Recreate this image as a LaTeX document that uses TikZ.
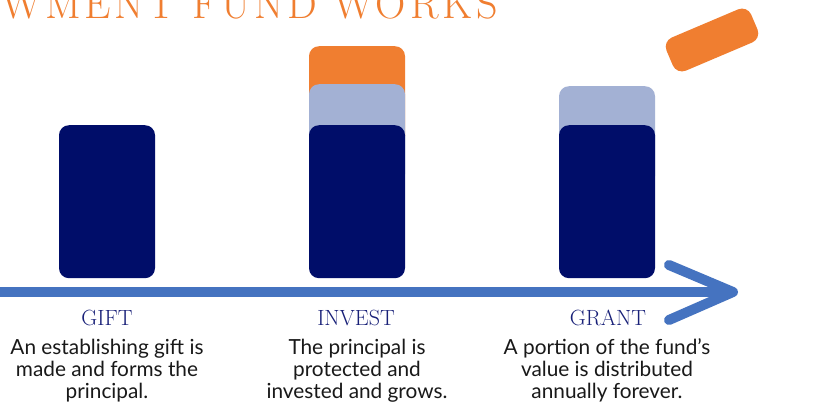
\documentclass[tikz,border=0pt]{standalone}
\usepackage{fontspec}
\newfontfamily\bodyfont{Lato}
\newfontfamily\titlefont[LetterSpace=9]{Latin Modern Roman}
\definecolor{navy}{RGB}{0,13,105}
\definecolor{lightbar}{RGB}{163,177,212}
\definecolor{orangebar}{RGB}{240,126,48}
\definecolor{arrowblue}{RGB}{69,115,192}
\definecolor{headnavy}{RGB}{24,32,120}
\definecolor{bodyink}{RGB}{25,25,25}
\tikzset{
  bar/.style={rounded corners=10pt, inner sep=0pt, minimum width=96pt, anchor=north},
  head/.style={font=\fontsize{22}{24}\selectfont, text=headnavy, anchor=base, inner sep=0pt},
  body/.style={font=\bodyfont\fontsize{20.8}{22}\selectfont, text=bodyink, align=center, anchor=base, inner sep=0pt},
  arrowline/.style={draw=arrowblue, line width=10pt},
}
\begin{document}
\begin{tikzpicture}[x=1pt,y=-1pt]
\useasboundingbox (0,0) rectangle (819,407);
\clip (0,0) rectangle (819,407);
\fill[white] (0,0) rectangle (819,407);

% title
\node[font=\titlefont\fontsize{42}{44}\selectfont, text=orangebar, anchor=base east, inner sep=0pt] (title) at (498,18) {HOW AN ENDOWMENT FUND WORKS};

% bars
\node[bar, fill=navy, minimum height=153pt] (giftbar) at (107,125) {};
\node[bar, fill=orangebar, minimum height=100pt] (investtop) at (357,46) {};
\node[bar, fill=lightbar, minimum height=100pt] (investmid) at (357,84) {};
\node[bar, fill=navy, minimum height=153pt] (investbar) at (357,125) {};
\node[bar, fill=lightbar, minimum height=100pt] (grantmid) at (607,86) {};
\node[bar, fill=navy, minimum height=153pt] (grantbar) at (607,125) {};
\node[rounded corners=10pt, inner sep=0pt, minimum width=92pt, minimum height=36pt, fill=orangebar, rotate=23] (flying) at (712,40) {};

% arrow
\coordinate (astart) at (-2,292);
\coordinate (atip) at (733,292);
\coordinate (aup) at (669,265);
\coordinate (adown) at (669,320);
\draw[arrowline] (astart) -- (atip);
\draw[arrowline, line cap=round, line join=round] (aup) -- (atip) -- (adown);

% labels
\node[head] (gift) at (107,325) {GIFT};
\node[head] (invest) at (356,325) {INVEST};
\node[head] (grant) at (608,325) {GRANT};

\node[body] (gifttext) at (107,398) {An establishing gift is\\made and forms the\\principal.};
\node[body] (investtext) at (357,398) {The principal is\\protected and\\invested and grows.};
\node[body] (granttext) at (607,398) {A portion of the fund’s\\value is distributed\\annually forever.};
\end{tikzpicture}
\end{document}
